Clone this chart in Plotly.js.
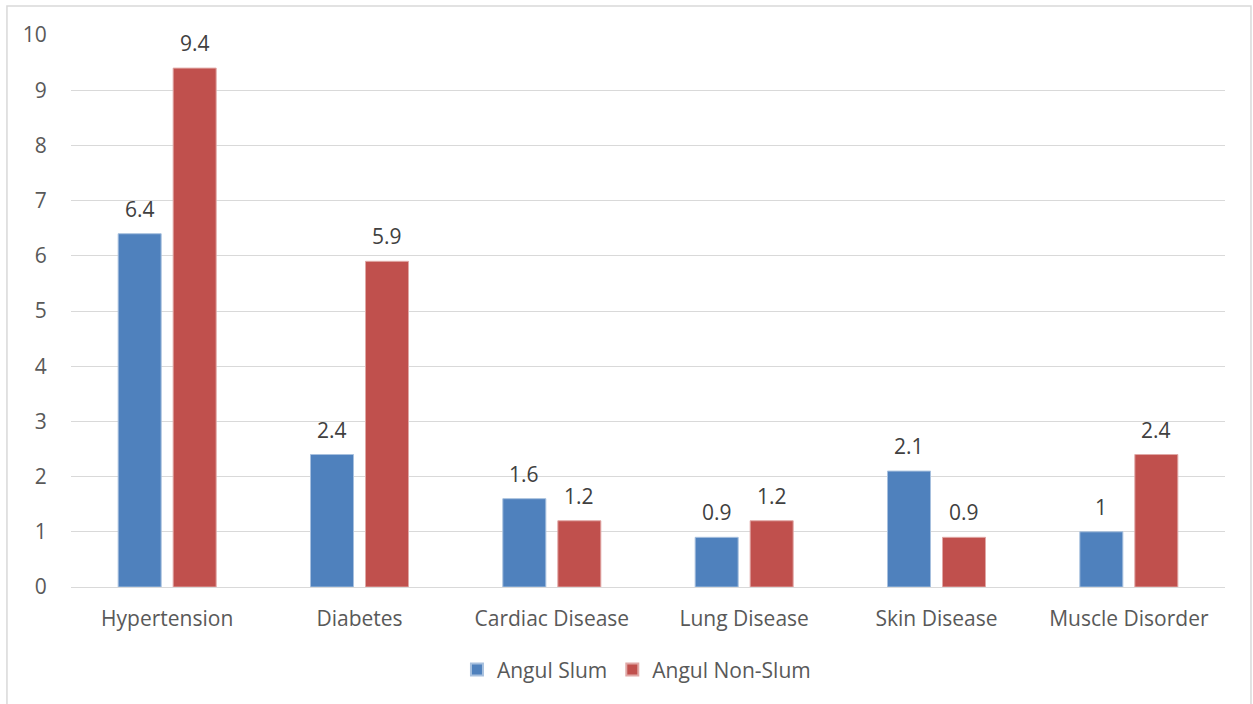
<!DOCTYPE html>
<html>
<head>
<meta charset="utf-8">
<script src="https://cdn.plot.ly/plotly-3.0.1.min.js"></script>
<style>
  html, body { margin: 0; padding: 0; background: #ffffff; }
  #chart { width: 1253px; height: 704px; }
</style>
</head>
<body>
<div id="chart"></div>
<script>
// Disease prevalence (%) in Angul, slum vs non-slum households
const categories = ["Hypertension", "Diabetes", "Cardiac Disease", "Lung Disease", "Skin Disease", "Muscle Disorder"];
const slumValues = [6.4, 2.4, 1.6, 0.9, 2.1, 1];
const nonSlumValues = [9.4, 5.9, 1.2, 1.2, 0.9, 2.4];
const seriesNames = ["Angul Slum", "Angul Non-Slum"];
const yTicks = [0, 1, 2, 3, 4, 5, 6, 7, 8, 9, 10];

const blue = "#4f81bd";
const red = "#c0504d";
const textGray = "#595959";
const labelGray = "#404040";
const gridGray = "#d9d9d9";
const fontFamily = "Open Sans, Liberation Sans, sans-serif";
const fontSize = 21;

const traces = [
  {
    type: "bar", name: seriesNames[0], x: categories, y: slumValues,
    marker: { color: blue, line: { color: "#a7c0de", width: 1 } },
    hoverinfo: "x+y"
  },
  {
    type: "bar", name: seriesNames[1], x: categories, y: nonSlumValues,
    marker: { color: red, line: { color: "#e0a8a6", width: 1 } },
    hoverinfo: "x+y"
  }
];

// value labels above each bar; offset left/right to sit over its bar in the group
const barShift = 27.5;
const annotations = [];
[slumValues, nonSlumValues].forEach((vals, si) => {
  vals.forEach((v, i) => {
    annotations.push({
      x: categories[i], y: v, xref: "x", yref: "y",
      text: String(v), showarrow: false,
      xshift: si === 0 ? -barShift : barShift, yshift: 25,
      yanchor: "middle",
      font: { family: fontFamily, size: fontSize, color: labelGray }
    });
  });
});

const layout = {
  width: 1253, height: 704,
  margin: { l: 71, r: 28, t: 35, b: 117 },
  paper_bgcolor: "#ffffff", plot_bgcolor: "#ffffff",
  barmode: "group", bargap: 0.428, bargroupgap: 0.218,
  font: { family: fontFamily, size: fontSize, color: textGray },
  xaxis: {
    type: "category", showgrid: false, zeroline: false, showline: false,
    ticks: "outside", ticklen: 13, tickcolor: "rgba(0,0,0,0)",
    tickfont: { family: fontFamily, size: fontSize, color: textGray }
  },
  yaxis: {
    range: [0, 10], tickvals: yTicks, ticktext: yTicks.map(String),
    showgrid: true, gridcolor: gridGray, gridwidth: 1,
    zeroline: true, zerolinecolor: gridGray, zerolinewidth: 1, showline: false,
    ticks: "outside", ticklen: 19, tickcolor: "rgba(0,0,0,0)",
    tickfont: { family: fontFamily, size: fontSize, color: textGray }
  },
  showlegend: true,
  legend: {
    orientation: "h", x: 0.49, xanchor: "center", y: -0.15, yanchor: "middle",
    font: { family: fontFamily, size: fontSize, color: textGray },
    itemsizing: "constant", traceorder: "normal"
  },
  annotations: annotations,
  shapes: [{
    type: "rect", xref: "paper", yref: "paper",
    x0: -0.0555, x1: 1.0225, y0: -0.25, y1: 1.0525,
    line: { color: gridGray, width: 1.5 }, fillcolor: "rgba(0,0,0,0)", layer: "below"
  }]
};

Plotly.newPlot("chart", traces, layout, { displayModeBar: false, responsive: false });
</script>
</body>
</html>
